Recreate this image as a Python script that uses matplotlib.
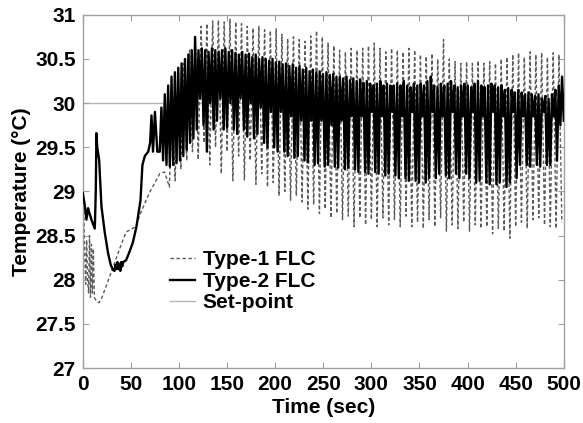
import numpy as np
import matplotlib
matplotlib.use('Agg')
import matplotlib.pyplot as plt

plt.rcParams['font.family'] = ['Liberation Sans', 'DejaVu Sans']
plt.rcParams['font.weight'] = 'bold'

# ---------------------------------------------------------------
# data
# ---------------------------------------------------------------

# Type-1 FLC, start-up transient (sec, degC)
type1_start_t = [0, 1, 2, 3, 4, 5, 6, 7, 8, 9, 10, 11, 12, 13, 14, 15, 17, 20,
                 25, 30, 35, 40, 45, 50, 55, 60, 65, 70, 75, 80, 85]
type1_start_v = [28.98, 28.8, 28.3, 27.95, 28.45, 28.0, 27.85, 28.5, 27.8, 28.4,
                 27.85, 28.35, 27.8, 27.78, 27.76, 27.75, 27.74, 27.8, 27.95, 28.1,
                 28.25, 28.4, 28.54, 28.57, 28.6, 28.75, 28.88, 29.0, 29.1, 29.2, 29.22]

# Type-1 FLC limit cycle: one trough / one peak per 6 sec, from 90 sec
type1_cycle_start = 90.0
type1_cycle_len = 6.0
type1_lows = [29.05, 29.12, 29.25, 29.35, 29.45, 29.36, 29.55, 29.3, 29.5, 29.2,
              29.45, 29.12, 29.4, 29.13, 29.35, 29.08, 29.2, 29.05, 29.1, 28.95,
              29.0, 28.9, 28.95, 28.88, 28.8, 28.85, 28.75, 28.8, 28.7, 28.75,
              28.68, 28.72, 28.6, 28.7, 28.62, 28.68, 28.6, 28.7, 28.62, 28.68,
              28.6, 28.72, 28.6, 28.65, 28.58, 28.68, 28.6, 28.7, 28.55, 28.62,
              28.58, 28.65, 28.55, 28.62, 28.58, 28.6, 28.52, 28.58, 28.55, 28.47,
              28.6, 28.65, 28.58, 28.68, 28.7, 28.62, 28.6, 28.58, 28.65]
type1_highs = [30.0, 30.25, 30.45, 30.6, 30.75, 30.87, 30.9, 30.93, 30.94, 30.92,
               30.95, 30.92, 30.9, 30.87, 30.85, 30.87, 30.83, 30.82, 30.84, 30.78,
               30.73, 30.75, 30.72, 30.7, 30.76, 30.82, 30.75, 30.68, 30.65, 30.6,
               30.58, 30.62, 30.6, 30.62, 30.65, 30.68, 30.62, 30.58, 30.62, 30.6,
               30.58, 30.62, 30.6, 30.55, 30.53, 30.56, 30.5, 30.72, 30.5, 30.47,
               30.45, 30.47, 30.45, 30.48, 30.45, 30.47, 30.45, 30.5, 30.52, 30.55,
               30.57, 30.52, 30.58, 30.55, 30.57, 30.52, 30.57, 30.55]

# Type-2 FLC, start-up transient
type2_start_t = [0, 2, 3.8, 5.5, 7, 9, 11, 12.5, 13.5, 14.2, 15, 17, 19.4, 22.9,
                 26.3, 29, 31.5, 33, 34, 35, 36, 37, 38, 39, 40, 41, 42, 45, 48,
                 52, 55.8, 60, 62, 64.5, 68, 70, 71.4, 73, 75, 77.5]
type2_start_v = [28.98, 28.85, 28.68, 28.81, 28.75, 28.68, 28.62, 28.58, 29.0, 29.66,
                 29.5, 29.36, 28.83, 28.53, 28.3, 28.17, 28.11, 28.1, 28.17, 28.12,
                 28.2, 28.12, 28.18, 28.1, 28.2, 28.15, 28.2, 28.22, 28.3,
                 28.42, 28.6, 28.9, 29.3, 29.4, 29.45, 29.55, 29.86, 29.45, 29.9, 29.45]

# Type-2 FLC limit cycle: one trough / one peak per 3.5 sec, from 80 sec
type2_cycle_start = 80.0
type2_cycle_len = 3.5
type2_lows = [29.45, 29.35, 29.3, 29.28, 29.3, 29.32, 29.35, 29.4, 29.47, 29.55,
              29.6, 29.7, 30.05, 29.75, 29.45, 30.0, 29.7, 29.8, 30.05, 29.7,
              29.72, 30.0, 29.7, 29.65, 30.05, 29.7, 29.62, 30.0, 29.6, 29.65,
              29.95, 29.55, 29.5, 29.9, 29.5, 29.45, 29.9, 29.45, 29.4, 29.85,
              29.38, 29.4, 29.8, 29.35, 29.33, 29.8, 29.3, 29.32, 29.8, 29.28,
              29.3, 29.75, 29.28, 29.27, 29.8, 29.25, 29.27, 29.85, 29.25, 29.22,
              29.85, 29.22, 29.2, 29.9, 29.22, 29.2, 29.85, 29.18, 29.2, 29.9,
              29.18, 29.15, 29.85, 29.15, 29.12, 29.9, 29.12, 29.1, 29.85, 29.1,
              29.15, 29.9, 29.15, 29.2, 29.85, 29.18, 29.15, 29.9, 29.2, 29.15,
              29.85, 29.2, 29.15, 29.9, 29.1, 29.12, 29.85, 29.1, 29.08, 29.9,
              29.08, 29.1, 29.85, 29.05, 29.1, 29.9, 29.15, 29.3, 29.85, 29.3,
              29.28, 29.85, 29.3, 29.28, 29.9, 29.3, 29.3, 29.85, 29.35, 29.75,
              29.8]
type2_highs = [29.95, 30.1, 30.2, 30.3, 30.35, 30.4, 30.45, 30.5, 30.55, 30.6,
               30.75, 30.6, 30.62, 30.6, 30.58, 30.62, 30.6, 30.58, 30.6, 30.62,
               30.58, 30.6, 30.57, 30.55, 30.58, 30.55, 30.56, 30.52, 30.55, 30.5,
               30.52, 30.5, 30.48, 30.5, 30.46, 30.47, 30.44, 30.45, 30.42, 30.44,
               30.4, 30.42, 30.38, 30.4, 30.36, 30.38, 30.35, 30.36, 30.33, 30.35,
               30.32, 30.33, 30.3, 30.3, 30.28, 30.3, 30.26, 30.28, 30.25, 30.27,
               30.23, 30.25, 30.22, 30.2, 30.22, 30.25, 30.2, 30.22, 30.2, 30.2,
               30.22, 30.2, 30.25, 30.2, 30.18, 30.22, 30.2, 30.22, 30.2, 30.25,
               30.3, 30.2, 30.18, 30.22, 30.2, 30.22, 30.25, 30.2, 30.18, 30.2,
               30.22, 30.2, 30.18, 30.22, 30.25, 30.2, 30.18, 30.2, 30.22, 30.2,
               30.18, 30.2, 30.15, 30.17, 30.15, 30.12, 30.15, 30.12, 30.1, 30.12,
               30.1, 30.08, 30.1, 30.05, 30.08, 30.05, 30.1, 30.15, 30.2, 30.3]

set_point = 30.0
x_ticks = list(range(0, 501, 50))
y_ticks = [27, 27.5, 28, 28.5, 29, 29.5, 30, 30.5, 31]
y_tick_labels = ['27', '27.5', '28', '28.5', '29', '29.5', '30', '30.5', '31']


def build_series(start_t, start_v, t0, period, lows, highs):
    # troughs sit on the cycle grid, peaks half a cycle later; merge by time
    lo_t = t0 + period * np.arange(len(lows))
    hi_t = t0 + period * (np.arange(len(highs)) + 0.5)
    t = np.concatenate([start_t, lo_t, hi_t])
    v = np.concatenate([start_v, lows, highs])
    order = np.argsort(t, kind='stable')
    return t[order], v[order]


t1, v1 = build_series(type1_start_t, type1_start_v, type1_cycle_start,
                      type1_cycle_len, type1_lows, type1_highs)
t2, v2 = build_series(type2_start_t, type2_start_v, type2_cycle_start,
                      type2_cycle_len, type2_lows, type2_highs)

# ---------------------------------------------------------------
# plot
# ---------------------------------------------------------------
fig = plt.figure(figsize=(5.83, 4.23), dpi=100)
ax = fig.add_axes([0.142, 0.13, 0.825, 0.835])

h_sp, = ax.plot([0, 500], [set_point, set_point], color='#b4b4b4', lw=1.0, zorder=1)
h1, = ax.plot(t1, v1, color='#5a5a5a', lw=1.0, dashes=(2.5, 1.8), zorder=2)
h2, = ax.plot(t2, v2, color='black', lw=1.7, zorder=3)

ax.set_xlim(0, 500)
ax.set_ylim(27, 31)
ax.set_xticks(x_ticks)
ax.set_yticks(y_ticks)
ax.set_yticklabels(y_tick_labels)
ax.tick_params(direction='in', length=4, color='#a0a0a0', labelsize=15,
               top=True, right=True, pad=5)
for lab in ax.get_xticklabels() + ax.get_yticklabels():
    lab.set_fontweight('bold')
for sp in ax.spines.values():
    sp.set_color('#a0a0a0')
    sp.set_linewidth(1.0)

ax.set_xlabel('Time (sec)', fontsize=15, fontweight='bold', labelpad=3)
ax.set_ylabel('Temperature (\u00b0C)', fontsize=15, fontweight='bold', labelpad=3)

ax.legend([h1, h2, h_sp], ['Type-1 FLC', 'Type-2 FLC', 'Set-point'],
          loc='center left', bbox_to_anchor=(0.165, 0.245), frameon=False,
          prop={'size': 15, 'weight': 'bold'}, handlelength=1.2,
          handletextpad=0.35, labelspacing=0.12, borderaxespad=0)

fig.savefig('out.png', dpi=100)
